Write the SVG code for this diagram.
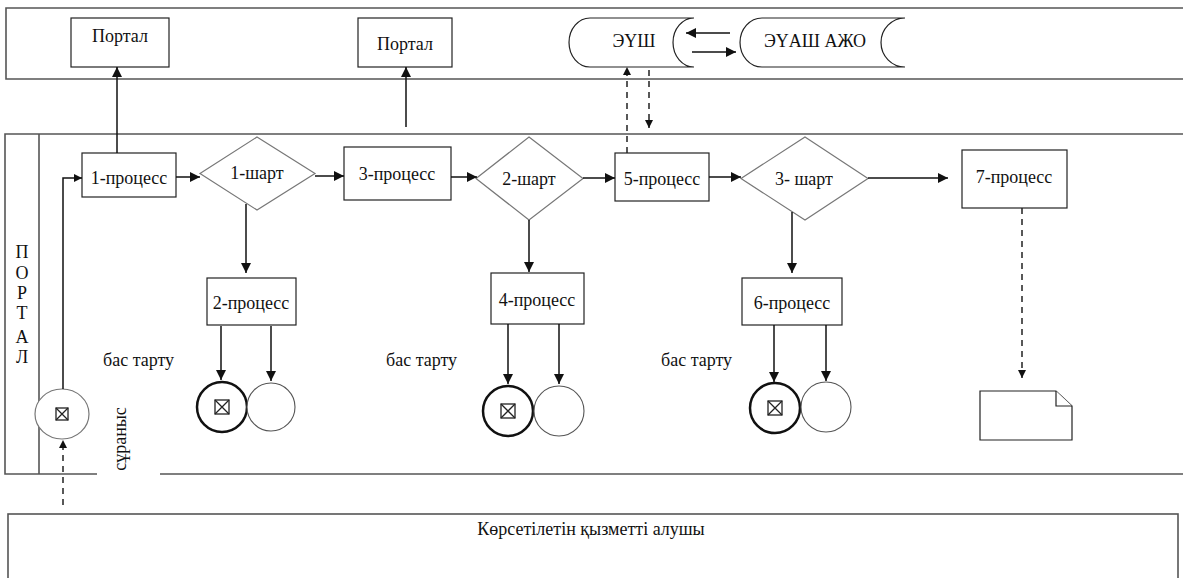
<svg xmlns="http://www.w3.org/2000/svg" width="1183" height="578" viewBox="0 0 1183 578">
<style>
text{font-family:"Liberation Serif","DejaVu Serif",serif;font-size:18px;fill:#111}
.c{text-anchor:middle}
.lane{fill:none;stroke:#555;stroke-width:1.6}
.box{fill:#fff;stroke:#222;stroke-width:1.2}
.dia{fill:#fff;stroke:#777;stroke-width:1.2}
.ln{fill:none;stroke:#111;stroke-width:1.5}
.dash{fill:none;stroke:#222;stroke-width:1.5;stroke-dasharray:6,5}
.bold{fill:#fff;stroke:#111;stroke-width:2.5}
.thin{fill:#fff;stroke:#555;stroke-width:1.1}
.sym{fill:none;stroke:#222;stroke-width:1.3}
</style>
<defs>
<marker id="ah" viewBox="0 0 10 10" refX="10" refY="5" markerWidth="8" markerHeight="8" markerUnits="userSpaceOnUse" orient="auto"><path d="M0,0 L10,5 L0,10 Z" fill="#111"/></marker>
<marker id="ahl" viewBox="0 0 10 10" refX="10" refY="5" markerWidth="10" markerHeight="10" markerUnits="userSpaceOnUse" orient="auto"><path d="M0,0 L10,5 L0,10 Z" fill="#111"/></marker>
</defs>
<rect width="1183" height="578" fill="#fff"/>
<g id="lanes">
<path class="lane" d="M1190,8 H6 V79 H1190"/>
<path class="lane" d="M1190,134 H5 V474 H97 M160,474 H1190"/>
<path class="lane" d="M39,134 V474"/>
<rect class="lane" x="8" y="514" width="1170" height="70"/>
<text x="22" y="258" class="c">П</text>
<text x="22" y="279" class="c">О</text>
<text x="22" y="299" class="c">Р</text>
<text x="22" y="319" class="c">Т</text>
<text x="22" y="343" class="c">А</text>
<text x="22" y="363" class="c">Л</text>
<text x="591" y="535" class="c">Көрсетілетін қызметті алушы</text>
<text transform="translate(126,439) rotate(-90)" class="c">сұраныс</text>
</g>
<g id="portal1"><rect class="box" x="71" y="18" width="98" height="49"/><text x="120" y="42" class="c">Портал</text></g>
<g id="portal2"><rect class="box" x="358" y="18" width="94" height="49"/><text x="405" y="50" class="c">Портал</text></g>
<g id="eush"><path class="box" d="M590,18 H694 A21,24.5 0 0 0 694,67 H590 A21,24.5 0 0 1 590,18 Z"/><text x="634" y="47" class="c">ЭҮШ</text></g>
<g id="euash"><path class="box" d="M762,18 H905 A24,24.5 0 0 0 905,67 H762 A22,24.5 0 0 1 762,18 Z"/><text x="815" y="47" class="c">ЭҮАШ АЖО</text></g>
<g id="start"><ellipse cx="62" cy="414" rx="27" ry="25" fill="#fff" stroke="#777" stroke-width="1.2"/><rect class="sym" x="56" y="408" width="12" height="12"/><path class="sym" d="M56,408 L68,420 M68,408 L56,420"/></g>
<g id="p1"><rect class="box" x="82" y="153" width="94" height="44"/><text x="129" y="184" class="c">1-процесс</text></g>
<g id="d1"><path class="dia" d="M257,137 L315,173.5 L257,210 L200,173.5 Z"/><text x="257" y="179" class="c">1-шарт</text></g>
<g id="p2"><rect class="box" x="207" y="278" width="89" height="47"/><text x="251" y="309" class="c">2-процесс</text></g>
<g id="e1a"><circle class="bold" cx="222" cy="407" r="25"/><rect class="sym" x="215" y="400" width="14" height="14"/><path class="sym" d="M215,400 L229,414 M229,400 L215,414"/></g>
<g id="e1b"><circle class="thin" cx="271" cy="407" r="24"/></g>
<g id="r1"><text x="103" y="366">бас тарту</text></g>
<g id="p3"><rect class="box" x="344" y="147" width="107" height="53"/><text x="397" y="180" class="c">3-процесс</text></g>
<g id="d2"><path class="dia" d="M529,137 L583,178.5 L529,220 L476,178.5 Z"/><text x="529" y="185" class="c">2-шарт</text></g>
<g id="p4"><rect class="box" x="491" y="273" width="93" height="51"/><text x="537" y="306" class="c">4-процесс</text></g>
<g id="e2a"><circle class="bold" cx="508" cy="411" r="25"/><rect class="sym" x="501" y="404" width="14" height="14"/><path class="sym" d="M501,404 L515,418 M515,404 L501,418"/></g>
<g id="e2b"><circle class="thin" cx="559" cy="411" r="25"/></g>
<g id="r2"><text x="386" y="366">бас тарту</text></g>
<g id="p5"><rect class="box" x="615" y="153" width="94" height="48"/><text x="662" y="185" class="c">5-процесс</text></g>
<g id="d3"><path class="dia" d="M805,137 L868,178.5 L805,220 L741,178.5 Z"/><text x="804" y="185" class="c">3- шарт</text></g>
<g id="p6"><rect class="box" x="742" y="278" width="100" height="47"/><text x="792" y="309" class="c">6-процесс</text></g>
<g id="e3a"><circle class="bold" cx="775" cy="408" r="25"/><rect class="sym" x="768" y="401" width="14" height="14"/><path class="sym" d="M768,401 L782,415 M782,401 L768,415"/></g>
<g id="e3b"><circle class="thin" cx="826" cy="407" r="25"/></g>
<g id="r3"><text x="661" y="366">бас тарту</text></g>
<g id="p7"><rect class="box" x="962" y="150" width="105" height="58"/><text x="1014" y="183" class="c">7-процесс</text></g>
<g id="doc"><path class="box" d="M980,391 H1056 L1072,406 V440 H980 Z"/><path class="box" d="M1056,391 V406 H1072" fill="none"/></g>
<g id="connectors">
<path class="ln" d="M63,389 V178 H82" marker-end="url(#ah)"/>
<path class="dash" d="M63,505 V440" marker-end="url(#ah)"/>
<path class="ln" d="M117,153 V67" marker-end="url(#ahl)"/>
<path class="ln" d="M406,127 V67" marker-end="url(#ahl)"/>
<path class="ln" d="M176,177 H200" marker-end="url(#ahl)"/>
<path class="ln" d="M246,204 V273" marker-end="url(#ahl)"/>
<path class="ln" d="M315,176 H344" marker-end="url(#ahl)"/>
<path class="ln" d="M221,326 V380" marker-end="url(#ahl)"/>
<path class="ln" d="M271,326 V381" marker-end="url(#ahl)"/>
<path class="ln" d="M451,177 H477" marker-end="url(#ahl)"/>
<path class="ln" d="M529,220 V272" marker-end="url(#ahl)"/>
<path class="ln" d="M583,178 H615" marker-end="url(#ahl)"/>
<path class="ln" d="M508,324 V384" marker-end="url(#ahl)"/>
<path class="ln" d="M559,324 V384" marker-end="url(#ahl)"/>
<path class="ln" d="M709,177 H741" marker-end="url(#ahl)"/>
<path class="ln" d="M792,212 V273" marker-end="url(#ahl)"/>
<path class="ln" d="M868,178 H948" marker-end="url(#ahl)"/>
<path class="ln" d="M774,325 V382" marker-end="url(#ahl)"/>
<path class="ln" d="M826,325 V381" marker-end="url(#ahl)"/>
<path class="dash" d="M1022,208 V378" marker-end="url(#ah)"/>
<path class="dash" d="M627,153 V67" marker-end="url(#ah)"/>
<path class="dash" d="M649,70 V128" marker-end="url(#ah)"/>
<path class="ln" d="M730,33 H686" marker-end="url(#ahl)"/>
<path class="ln" d="M692,52 H736" marker-end="url(#ahl)"/>
</g>
</svg>
